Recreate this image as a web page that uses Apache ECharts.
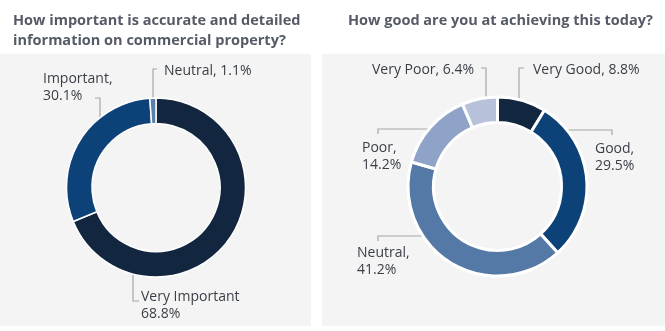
<!DOCTYPE html>
<html><head><meta charset="utf-8">
<style>html,body{margin:0;padding:0;background:#fff;}#c{width:665px;height:331px;}</style>
<script src="https://cdn.jsdelivr.net/npm/echarts@6/dist/echarts.min.js"></script>
</head><body><div id="c"></div>
<script>
// Data
var importanceCats = ['Very Important', 'Important', 'Neutral'];
var importanceVals = [68.8, 30.1, 1.1];
var goodCats = ['Very Good', 'Good', 'Neutral', 'Poor', 'Very Poor'];
var goodVals = [8.8, 29.5, 41.2, 14.2, 6.4];
var importanceLabels = ['Very Important\n68.8%', 'Important,\n30.1%', 'Neutral, 1.1%'];
var goodLabels = ['Very Good, 8.8%', 'Good,\n29.5%', 'Neutral,\n41.2%', 'Poor,\n14.2%', 'Very Poor, 6.4%'];

var FONT = 'Open Sans';
var importanceColors = ['#13263f', '#0d4279', '#5a80ad'];
var goodColors = ['#13263f', '#0d4279', '#5479a6', '#8fa3c8', '#b7c2da'];

// label layout (text x,y top-left; leader line points)
var leftLayout = [
  {x: 141, y: 289, pts: [[133, 257], [133, 301], [139, 301]]},
  {x: 43, y: 71, pts: [[100, 132], [100, 98], [95, 98]]},
  {x: 164, y: 63, pts: [[153, 98], [153, 69], [157, 69]]}
];
var rightLayout = [
  {x: 533, y: 62, pts: [[519, 105], [519, 68], [524, 68]]},
  {x: 595, y: 141, pts: [[565, 130], [612, 130], [612, 135]]},
  {x: 357, y: 245, pts: [[438, 236], [378, 236], [378, 241]]},
  {x: 362, y: 140, pts: [[435, 129], [378, 129], [378, 134]]},
  {x: 372, y: 62, pts: [[486, 106], [486, 68], [481, 68]]}
];

function mk(cats, vals, colors) {
  return cats.map(function (c, i) {
    return {name: c, value: vals[i], itemStyle: {color: colors[i]}};
  });
}
function layoutFn(L) {
  return function (p) {
    var l = L[p.dataIndex];
    return {x: l.x, y: l.y, align: 'left', verticalAlign: 'top', labelLinePoints: l.pts, width: 200};
  };
}

var chart = echarts.init(document.getElementById('c'), null, {renderer: 'canvas'});
chart.setOption({
  backgroundColor: '#ffffff',
  animation: false,
  graphic: [
    {type: 'rect', shape: {x: 0, y: 54, width: 311, height: 272}, style: {fill: '#f4f4f4'}, z: -10},
    {type: 'rect', shape: {x: 322, y: 54, width: 343, height: 272}, style: {fill: '#f4f4f4'}, z: -10}
  ],
  title: [
    {text: 'How important is accurate and detailed\ninformation on commercial property?', left: 8, top: 6,
     textStyle: {fontFamily: FONT, fontSize: 14.5, fontWeight: 'bold', color: '#555b66', lineHeight: 20}},
    {text: 'How good are you at achieving this today?', left: 343, top: 6,
     textStyle: {fontFamily: FONT, fontSize: 14.5, fontWeight: 'bold', color: '#555b66', lineHeight: 20}}
  ],
  series: [
    {
      type: 'pie', center: [156, 187.5], radius: [64, 89.5], startAngle: 90, clockwise: true,
      data: mk(importanceCats, importanceVals, importanceColors),
      itemStyle: {borderColor: '#ffffff', borderWidth: 1.5},
      label: {show: true, position: 'outside', overflow: 'none', fontFamily: FONT, fontSize: 14, color: '#3a3f47', lineHeight: 17,
        formatter: function (p) { return importanceLabels[p.dataIndex]; }},
      labelLine: {show: true, lineStyle: {color: '#a6a6a6', width: 1.2}},
      labelLayout: layoutFn(leftLayout),
      emphasis: {disabled: true}
    },
    {
      type: 'pie', center: [497.5, 186.5], radius: [64, 89.5], startAngle: 90, clockwise: true,
      data: mk(goodCats, goodVals, goodColors),
      itemStyle: {borderColor: '#ffffff', borderWidth: 3},
      label: {show: true, position: 'outside', overflow: 'none', fontFamily: FONT, fontSize: 14, color: '#3a3f47', lineHeight: 17,
        formatter: function (p) { return goodLabels[p.dataIndex]; }},
      labelLine: {show: true, lineStyle: {color: '#a6a6a6', width: 1.2}},
      labelLayout: layoutFn(rightLayout),
      emphasis: {disabled: true}
    }
  ]
});
</script></body></html>
